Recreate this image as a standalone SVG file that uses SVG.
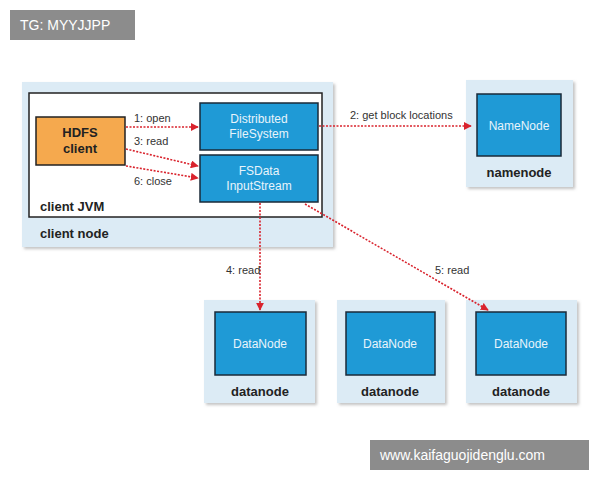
<svg xmlns="http://www.w3.org/2000/svg" width="600" height="480" viewBox="0 0 600 480">
<defs>
<marker id="ah" viewBox="0 0 10 10" refX="9" refY="5" markerWidth="5" markerHeight="5" orient="auto"><path d="M0,0 L10,5 L0,10 z" fill="#d9232d"/></marker>
<filter id="sh" x="-10%" y="-10%" width="125%" height="125%"><feDropShadow dx="2" dy="2" stdDeviation="1.5" flood-color="#999" flood-opacity="0.6"/></filter>
</defs>
<style>
.outer{fill:#dcebf5;filter:url(#sh)}
.blue{fill:#1f9ad6;stroke:#1a2a38;stroke-width:1.5}
.wt{font-family:"Liberation Sans Narrow","Liberation Sans",sans-serif;font-size:12px;fill:#e8f4fb;text-anchor:middle}
.bl{font-family:"Liberation Sans Narrow","Liberation Sans",sans-serif;font-size:13px;font-weight:bold;fill:#222;text-anchor:middle}
.lb{font-family:"Liberation Sans Narrow","Liberation Sans",sans-serif;font-size:11px;fill:#333}
.c{stroke:#d9232d;stroke-width:1.6;stroke-dasharray:2 1.5;fill:none;marker-end:url(#ah)}
.wm{font-family:"Liberation Sans",sans-serif;font-size:14px;fill:#fff}
</style>
<rect width="600" height="480" fill="#fff"/>
<g id="client-node">
<rect class="outer" x="22" y="82" width="311" height="165"/>
<rect x="29" y="93" width="293" height="124" fill="#fff" stroke="#222" stroke-width="1.5"/>
<text class="bl" x="40" y="211" style="text-anchor:start">client JVM</text>
<text class="bl" x="40" y="238" style="text-anchor:start">client node</text>
</g>
<g id="hdfs-client">
<rect x="36" y="117" width="89" height="48" fill="#f5a94e" stroke="#222" stroke-width="1.5"/>
<text class="bl" x="80" y="137">HDFS</text>
<text class="bl" x="80" y="153">client</text>
</g>
<g id="dfs">
<rect class="blue" x="200" y="103" width="118" height="47"/>
<text class="wt" x="259" y="123">Distributed</text>
<text class="wt" x="259" y="138">FileSystem</text>
</g>
<g id="fsdata">
<rect class="blue" x="200" y="155" width="118" height="47"/>
<text class="wt" x="259" y="175">FSData</text>
<text class="wt" x="259" y="190">InputStream</text>
</g>
<g id="namenode">
<rect class="outer" x="466" y="80" width="107" height="107"/>
<rect class="blue" x="477" y="94" width="84" height="62"/>
<text class="wt" x="519" y="130">NameNode</text>
<text class="bl" x="519" y="177">namenode</text>
</g>
<g id="datanode1">
<rect class="outer" x="204" y="300" width="111" height="103"/>
<rect class="blue" x="215" y="312" width="91" height="63"/>
<text class="wt" x="260" y="348">DataNode</text>
<text class="bl" x="260" y="396">datanode</text>
</g>
<g id="datanode2">
<rect class="outer" x="337" y="300" width="108" height="103"/>
<rect class="blue" x="346" y="312" width="89" height="63"/>
<text class="wt" x="390" y="348">DataNode</text>
<text class="bl" x="390" y="396">datanode</text>
</g>
<g id="datanode3">
<rect class="outer" x="466" y="300" width="111" height="103"/>
<rect class="blue" x="476" y="312" width="90" height="63"/>
<text class="wt" x="521" y="348">DataNode</text>
<text class="bl" x="521" y="396">datanode</text>
</g>
<g id="connectors">
<path class="c" d="M126,127 L198,127"/>
<path class="c" d="M319,126 L471,126"/>
<path class="c" d="M126,149 L198,166"/>
<path class="c" d="M126,166 L198,178"/>
<path class="c" d="M260,203 L260,310"/>
<path class="c" d="M305,204 L488,310"/>
<text class="lb" x="134" y="122">1: open</text>
<text class="lb" x="134" y="145">3: read</text>
<text class="lb" x="134" y="185">6: close</text>
<text class="lb" x="350" y="119">2: get block locations</text>
<text class="lb" x="226" y="274">4: read</text>
<text class="lb" x="435" y="274">5: read</text>
</g>
<g id="watermarks">
<rect x="10" y="10" width="125" height="30" fill="#8c8c8c"/>
<text class="wm" x="20" y="30">TG: MYYJJPP</text>
<rect x="370" y="440" width="219" height="30" fill="#8c8c8c"/>
<text class="wm" x="380" y="460">www.kaifaguojidenglu.com</text>
</g>
</svg>
